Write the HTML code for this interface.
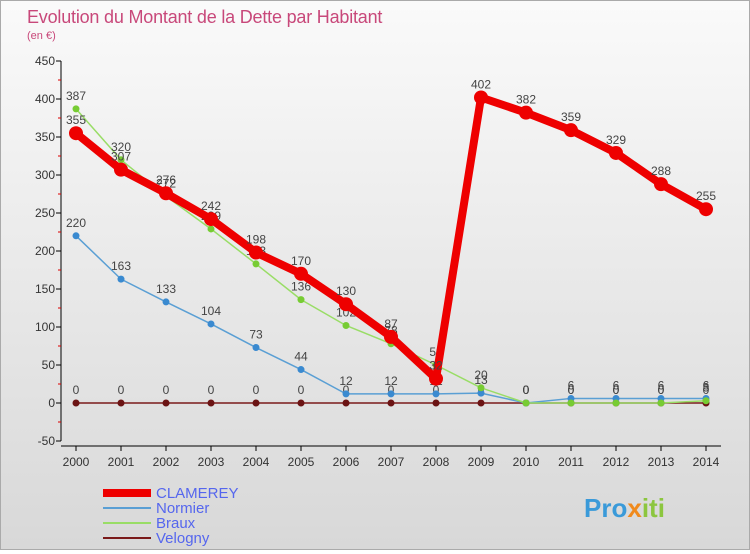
<!DOCTYPE html>
<html><head><meta charset="utf-8">
<style>
html,body{margin:0;padding:0}
body{width:750px;height:550px;overflow:hidden;font-family:"Liberation Sans",sans-serif}
#wrap{position:relative;width:748px;height:548px;border:1px solid #aaa;background:linear-gradient(#fafafa,#d8d8d8)}
</style></head>
<body>
<div id="wrap">
<svg id="chart" width="748" height="548">
<text x="26" y="22" font-size="18" fill="#c8487a" style="letter-spacing:-0.2px">Evolution du Montant de la Dette par Habitant</text>
<text x="26" y="38" font-size="11" fill="#c8487a">(en €)</text>
<g id="axes"></g>
<g id="series"></g>
<g id="legend"></g>
<text x="583" y="516" font-size="26" font-weight="bold" fill="#3a9ad9">Pro<tspan fill="#f08a1c">x</tspan><tspan fill="#8cc63f">iti</tspan></text>
</svg>
</div>
<script>
const years=[2000,2001,2002,2003,2004,2005,2006,2007,2008,2009,2010,2011,2012,2013,2014];
const yTicks=[-50,0,50,100,150,200,250,300,350,400,450];
const clamerey=[355,307,276,242,198,170,130,87,32,402,382,359,329,288,255];
const normier=[220,163,133,104,73,44,12,12,12,13,0,6,6,6,6];
const braux=[387,320,272,229,183,136,102,78,50,20,0,0,0,0,3];
const velogny=[0,0,0,0,0,0,0,0,0,0,0,0,0,0,0];
const seriesNames=["CLAMEREY","Normier","Braux","Velogny"];
const NS="http://www.w3.org/2000/svg";
const xS=i=>75+i*45;
const yS=v=>402-v*0.76;
function el(t,a,p){const e=document.createElementNS(NS,t);for(const k in a)e.setAttribute(k,a[k]);p.appendChild(e);return e;}
const ax=document.getElementById('axes');
const yl=el('line',{x1:60,y1:yS(450),x2:60,y2:yS(-50),stroke:'#000','stroke-width':1},ax);


const xl=el('line',{x1:60,y1:445,x2:720,y2:445,stroke:'#000','stroke-width':1},ax);


yTicks.forEach(v=>{
 el('line',{x1:55,y1:yS(v),x2:60,y2:yS(v),stroke:'#000'},ax);
 if(v<450) el('line',{x1:57,y1:yS(v+25),x2:60,y2:yS(v+25),stroke:'#d00'},ax);
 const t=el('text',{x:54,y:yS(v)+4,'font-size':12,'text-anchor':'end',fill:'#333'},ax);
 t.textContent=v;
 
 
});
years.forEach((y,i)=>{
 el('line',{x1:xS(i),y1:445,x2:xS(i),y2:450,stroke:'#000'},ax);
 const t=el('text',{x:xS(i),y:465,'font-size':12,'text-anchor':'middle',fill:'#333'},ax);
 t.textContent=y;
 
 
});
const sg=document.getElementById('series');
function draw(data,color,w,r,name,dot){
 const g=el('g',{},sg);
 
 
 const pl=el('polyline',{points:data.map((v,i)=>xS(i)+','+yS(v)).join(' '),fill:'none',stroke:color,'stroke-width':w,'stroke-linejoin':'round'},g);
 
 
 data.forEach((v,i)=>{
  const c=el('circle',{cx:xS(i),cy:yS(v),r:r,fill:dot},g);
  
  
  const t=el('text',{x:xS(i),y:yS(v)-9,'font-size':12,'text-anchor':'middle',fill:'#444'},g);
  t.textContent=v;
  
  
 });
}
draw(velogny,'#7a1a1a',1.5,3.5,'velogny','#6b1414');
draw(normier,'#5a9fd4',1.5,3.5,'normier','#3a8ad0');
draw(braux,'#99dd66',1.5,3.5,'braux','#77cc33');
draw(clamerey,'#ee0000',8,7,'clamerey','#ee0000');
const lg=document.getElementById('legend');
const lc=[['#ee0000',8],['#5a9fd4',2],['#99dd66',2],['#7a1a1a',2]];
seriesNames.forEach((n,i)=>{
 const y=492+i*15;
 el('line',{x1:102,y1:y,x2:150,y2:y,stroke:lc[i][0],'stroke-width':lc[i][1]},lg);
 const t=el('text',{x:155,y:y+5,'font-size':15,fill:'#5566ee'},lg);
 t.textContent=n;
 
 
});
</script>
</body></html>
